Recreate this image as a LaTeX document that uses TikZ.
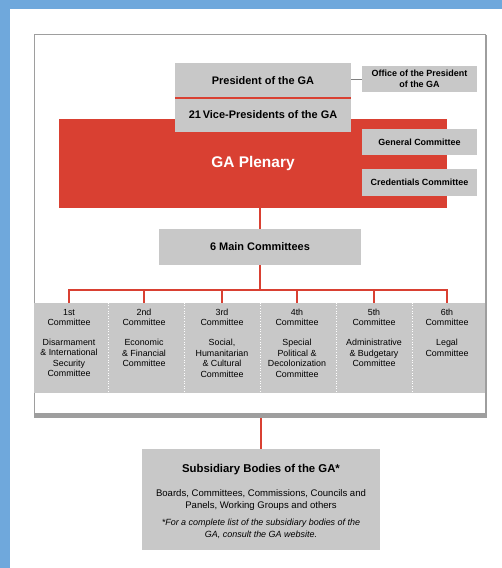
\documentclass[tikz,border=0pt]{standalone}
\usepackage{fontspec}
\setmainfont{Liberation Sans}
\definecolor{bgblue}{HTML}{6FA8DC}
\definecolor{unred}{HTML}{D94032}
\definecolor{boxgray}{HTML}{C8C8C8}
\definecolor{framegray}{HTML}{9E9E9E}
\begin{document}
\begin{tikzpicture}[x=1bp,y=-1bp,
  gbox/.style={fill=boxgray, draw=none, inner sep=0pt, align=center},
  bigtxt/.style={font=\bfseries\fontsize{11}{13}\selectfont},
  smalltxt/.style={font=\bfseries\fontsize{9}{11}\selectfont},
  comtxt/.style={font=\fontsize{8.9}{10.4}\selectfont, align=center, inner sep=0pt, anchor=north},
  redline/.style={draw=unred, line width=2.2bp},
  cell/.style={fill=boxgray, draw=none, inner sep=0pt, minimum height=90bp},
  sep/.style={draw=white, line width=0.6bp, dotted}
]
\useasboundingbox (0,0) rectangle (502,568);
\fill[bgblue] (0,0) rectangle (502,568);
\fill[white] (10,9) rectangle (502,568);
% frame
\draw[framegray, line width=1bp] (34.5,34.5) rectangle (485,416);
\draw[framegray, line width=1bp] (486,35) -- (486,416);
\fill[framegray] (34,413) rectangle (486.5,418);

% plenary
\node[fill=unred, minimum width=388bp, minimum height=89bp, inner sep=0pt,
      text=white, font=\bfseries\fontsize{15.5}{18}\selectfont] (plen) at (253,163.5) {GA Plenary};
% president & vice presidents
\node[gbox, bigtxt, minimum width=176bp, minimum height=35bp] (pres) at (263,80.5) {President of the GA};
\node[gbox, bigtxt, minimum width=176bp, minimum height=34bp] (vp) at (263,115) {21\,Vice-Presidents of the GA};
\draw[unred, line width=1.4bp] (pres.south west) -- (pres.south east);
% side boxes
\node[gbox, smalltxt, minimum width=115bp, minimum height=26bp] (office) at (419.5,79) {Office of the President\\of the GA};
\draw[gray, line width=0.8bp] (office.west) -- (office.west -| pres.east);
\node[gbox, smalltxt, minimum width=115bp, minimum height=26bp] (gen) at (419.5,142) {General Committee};
\node[gbox, smalltxt, minimum width=115bp, minimum height=27bp] (cred) at (419.5,182.5) {Credentials Committee};

% main committees
\node[gbox, bigtxt, minimum width=202bp, minimum height=36bp] (main) at (260,247) {6 Main Committees};
\draw[redline] (main.north) -- (main.north |- plen.south);

% committee cells
\node[cell, minimum width=74bp] (c1) at (71,348) {};
\node[cell, minimum width=76bp] (c2) at (146,348) {};
\node[cell, minimum width=76bp] (c3) at (222,348) {};
\node[cell, minimum width=76bp] (c4) at (298,348) {};
\node[cell, minimum width=76bp] (c5) at (374,348) {};
\node[cell, minimum width=73bp] (c6) at (448.5,348) {};
\draw[sep] (c1.north east) -- (c1.south east);
\draw[sep] (c2.north east) -- (c2.south east);
\draw[sep] (c3.north east) -- (c3.south east);
\draw[sep] (c4.north east) -- (c4.south east);
\draw[sep] (c5.north east) -- (c5.south east);

\node[comtxt] (t1) at (69,309) {1st\\Committee\\[9.6bp]Disarmament\\\& International\\Security\\Committee};
\node[comtxt] (t2) at (144,309) {2nd\\Committee\\[9.6bp]Economic\\\& Financial\\Committee};
\node[comtxt] (t3) at (222,309) {3rd\\Committee\\[9.6bp]Social,\\Humanitarian\\\& Cultural\\Committee};
\node[comtxt] (t4) at (297,309) {4th\\Committee\\[9.6bp]Special\\Political \&\\Decolonization\\Committee};
\node[comtxt] (t5) at (374,309) {5th\\Committee\\[9.6bp]Administrative\\\& Budgetary\\Committee};
\node[comtxt] (t6) at (447,309) {6th\\Committee\\[9.6bp]Legal\\Committee};

\coordinate (bus) at (260,290);
\draw[redline] (main.south) -- (bus);
\draw[redline] (t1.north |- c1.north) |- (bus) -| (t6.north |- c6.north);
\draw[redline] (t2.north |- c2.north) -- (t2.north |- bus);
\draw[redline] (t3.north |- c3.north) -- (t3.north |- bus);
\draw[redline] (t4.north |- c4.north) -- (t4.north |- bus);
\draw[redline] (t5.north |- c5.north) -- (t5.north |- bus);

% subsidiary
\node[gbox, minimum width=238bp, minimum height=101bp] (sub) at (261,499.5) {};
\draw[redline] (sub.north) -- (sub.north |- 0,418);
\node[anchor=base, inner sep=0pt, font=\bfseries\fontsize{11.4}{13}\selectfont] (subtitle) at (261,472) {Subsidiary Bodies of the GA*};
\node[anchor=north, inner sep=0pt, align=center, font=\fontsize{9.6}{12}\selectfont] (subbody) at (261,489.5) {Boards, Committees, Commissions, Councils and\\Panels, Working Groups and others};
\node[anchor=north, inner sep=0pt, align=center, font=\itshape\fontsize{9}{11.5}\selectfont] (subnote) at (261,519) {*For a complete list of the subsidiary bodies of the\\GA, consult the GA website.};
\end{tikzpicture}
\end{document}
